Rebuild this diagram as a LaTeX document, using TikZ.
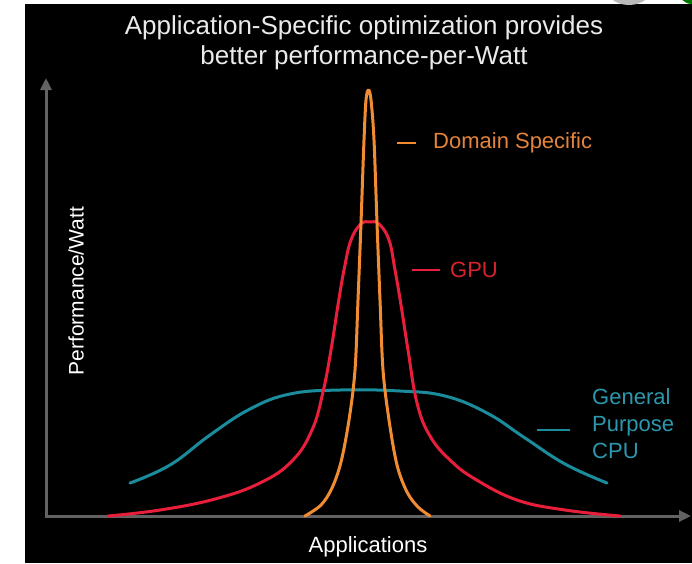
\documentclass[tikz,border=0pt]{standalone}
\usepackage{fontspec}
\setmainfont{Liberation Sans}
\usetikzlibrary{arrows.meta}
\definecolor{axisgray}{HTML}{626262}
\definecolor{dsorange}{HTML}{F28C33}
\definecolor{dstext}{HTML}{E4843C}
\definecolor{gpured}{HTML}{E81E3A}
\definecolor{gputext}{HTML}{D8232F}
\definecolor{cputeal}{HTML}{1B8C9C}
\definecolor{cputext}{HTML}{2C98AE}
\definecolor{titlegray}{HTML}{EAEAEA}
\tikzset{
  axisline/.style={draw=axisgray, line width=3pt, -{Triangle[length=12pt,width=11pt]}},
  curve/.style={line width=3pt, line cap=round, line join=round},
  leader/.style={line width=1.6pt},
  titletext/.style={text=titlegray, font=\fontsize{26}{30}\selectfont, anchor=base, inner sep=0pt},
  axislabel/.style={text=white, font=\fontsize{21}{25}\selectfont, inner sep=0pt},
  serieslabel/.style={font=\fontsize{22}{27}\selectfont, anchor=west, inner sep=0pt, align=left},
}
\begin{document}
\begin{tikzpicture}[x=1pt, y=-1pt]
\useasboundingbox (0,0) rectangle (692,563);
% page background and dark slide area
\fill[white] (0,0) rectangle (692,563);
\fill[black] (25,4) rectangle (692,563);
% bits of the header bar above the slide
\begin{scope}
  \clip (0,0) rectangle (692,4);
  \fill[gray!55] (629,-14) ellipse (24pt and 19pt);
  \fill[green!45!black] (692,-10) circle (14pt);
\end{scope}

% title
\node[titletext] (title1) at (364,34) {Application-Specific optimization provides};
\node[titletext] (title2) at (364,64) {better performance-per-Watt};

% axes
\coordinate (origin) at (46,516);
\coordinate (ytip) at (46,78);
\coordinate (xtip) at (691,516);
\draw[axisline] (origin) -- (ytip);
\draw[axisline] ([xshift=-1.5pt]origin) -- (xtip);

\node[axislabel, rotate=90] (ylab) at (76,291) {Performance/Watt};
\node[axislabel, anchor=base, font=\fontsize{22}{26}\selectfont] (xlab) at (368,552) {Applications};

% general purpose CPU
\draw[curve, cputeal] plot[smooth, tension=0.7] coordinates {
  (130,483) (170,465) (210,435) (250,409) (290,394) (340,390) (400,391)
  (445,396) (487,413) (525,438) (565,464) (607,483)};

% GPU
\draw[curve, gpured] plot[smooth, tension=0.7] coordinates {
  (108,516) (160,510) (215,499) (260,483) (292,461) (312,430) (323,392)
  (331,350) (338,305) (344,270) (351,240) (361,224) (370,222) (379,224)
  (389,240) (395,270) (401,305) (408,350) (417,403) (430,436) (450,460)
  (475,479) (517,500) (565,510) (620,516)};

% domain specific
\draw[curve, dsorange] plot[smooth, tension=0.55] coordinates {
  (305,516) (321,505) (332,488) (341,462) (349,420) (355,370) (358,300)
  (361,223) (364,140) (366,100) (368.5,90) (371,100) (374,140) (377,223)
  (380,300) (383,370) (389,420) (397,465) (407,492) (418,507) (430,516)};

% legend leaders and labels
\coordinate (dsA) at (397,143);
\coordinate (dsB) at (416,143);
\draw[leader, dsorange] (dsA) -- (dsB);
\node[serieslabel, text=dstext] (dslab) at (433,143) {Domain Specific};

\coordinate (gpuA) at (412,270);
\coordinate (gpuB) at (440,270);
\draw[leader, gpured] (gpuA) -- (gpuB);
\node[serieslabel, text=gputext] (gpulab) at (450,270) {GPU};

\coordinate (cpuA) at (537,430);
\coordinate (cpuB) at (570,430);
\draw[leader, cputeal] (cpuA) -- (cpuB);
\node[serieslabel, text=cputext] (cpulab) at (592,424) {General\\Purpose\\CPU};
\end{tikzpicture}
\end{document}
